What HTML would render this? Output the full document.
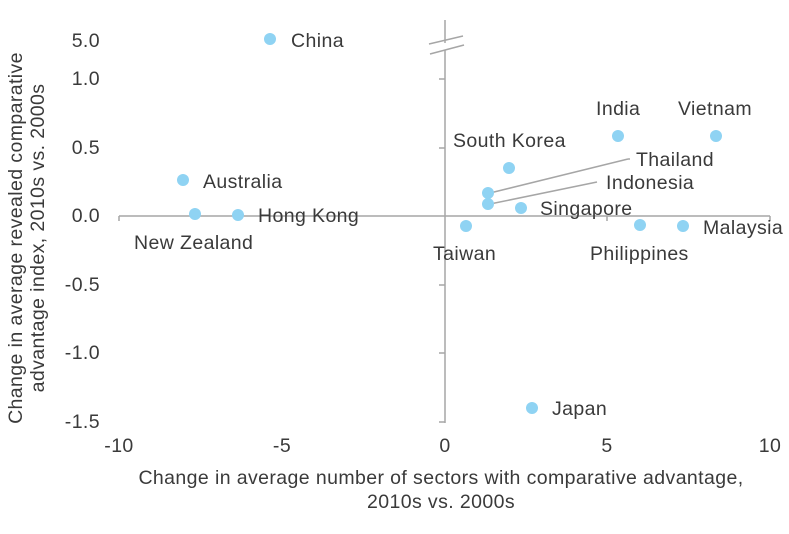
<!DOCTYPE html>
<html><head><style>body{margin:0;background:#fff}svg text{font-family:"Liberation Sans",sans-serif;fill:#3a3a3a;letter-spacing:0.4px}</style></head><body>
<svg width="789" height="529" viewBox="0 0 789 529" xmlns="http://www.w3.org/2000/svg">
<g stroke="#a6a6a6" stroke-width="1.5" fill="none">
<line x1="445" y1="20" x2="445" y2="423"/>
<line x1="119" y1="216" x2="770" y2="216"/>
<line x1="119" y1="216" x2="119" y2="221"/>
<line x1="282" y1="216" x2="282" y2="221"/>
<line x1="607" y1="216" x2="607" y2="221"/>
<line x1="770" y1="216" x2="770" y2="221"/>
<line x1="439" y1="79" x2="445" y2="79"/>
<line x1="439" y1="148" x2="445" y2="148"/>
<line x1="439" y1="285" x2="445" y2="285"/>
<line x1="439" y1="353" x2="445" y2="353"/>
<line x1="439" y1="422" x2="445" y2="422"/>
<line x1="429" y1="44" x2="463" y2="36"/>
<line x1="490" y1="193" x2="628" y2="159"/><line x1="628" y1="159" x2="630" y2="159"/>
<line x1="490" y1="204" x2="597" y2="182"/>
</g>
<rect x="440" y="43" width="10" height="7" fill="#fff"/>
<line x1="430" y1="54" x2="464" y2="45" stroke="#a6a6a6" stroke-width="1.5"/>
<g fill="#8fd3f3">
<circle cx="270" cy="39" r="6"/><circle cx="183" cy="180" r="6"/><circle cx="195" cy="214" r="6"/><circle cx="238" cy="215" r="6"/>
<circle cx="466" cy="226" r="6"/><circle cx="509" cy="168" r="6"/><circle cx="488" cy="193" r="6"/><circle cx="488" cy="204" r="6"/>
<circle cx="521" cy="208" r="6"/><circle cx="618" cy="136" r="6"/><circle cx="716" cy="136" r="6"/><circle cx="640" cy="225" r="6"/>
<circle cx="683" cy="226" r="6"/><circle cx="532" cy="408" r="6"/>
</g>
<g font-size="19.5">
<text x="291" y="47">China</text>
<text x="203" y="188">Australia</text>
<text x="134" y="249">New Zealand</text>
<text x="258" y="222">Hong Kong</text>
<text x="433" y="260">Taiwan</text>
<text x="453" y="147">South Korea</text>
<text x="636" y="166">Thailand</text>
<text x="606" y="189">Indonesia</text>
<text x="540" y="215">Singapore</text>
<text x="596" y="115">India</text>
<text x="678" y="115">Vietnam</text>
<text x="590" y="260">Philippines</text>
<text x="703" y="234">Malaysia</text>
<text x="552" y="415">Japan</text>
</g>
<g font-size="19.5" text-anchor="end">
<text x="100" y="47">5.0</text><text x="100" y="85">1.0</text><text x="100" y="154">0.5</text>
<text x="100" y="222">0.0</text><text x="100" y="291">-0.5</text><text x="100" y="359">-1.0</text><text x="100" y="428">-1.5</text>
</g>
<g font-size="19.5" text-anchor="middle">
<text x="119" y="452">-10</text><text x="282" y="452">-5</text><text x="445" y="452">0</text><text x="607" y="452">5</text><text x="770" y="452">10</text>
<text x="441" y="484">Change in average number of sectors with comparative advantage,</text>
<text x="441" y="508">2010s vs. 2000s</text>
<g transform="translate(22,238) rotate(-90)"><text x="0" y="0">Change in average revealed comparative</text><text x="0" y="22">advantage index, 2010s vs. 2000s</text></g>
</g>
</svg>
</body></html>
